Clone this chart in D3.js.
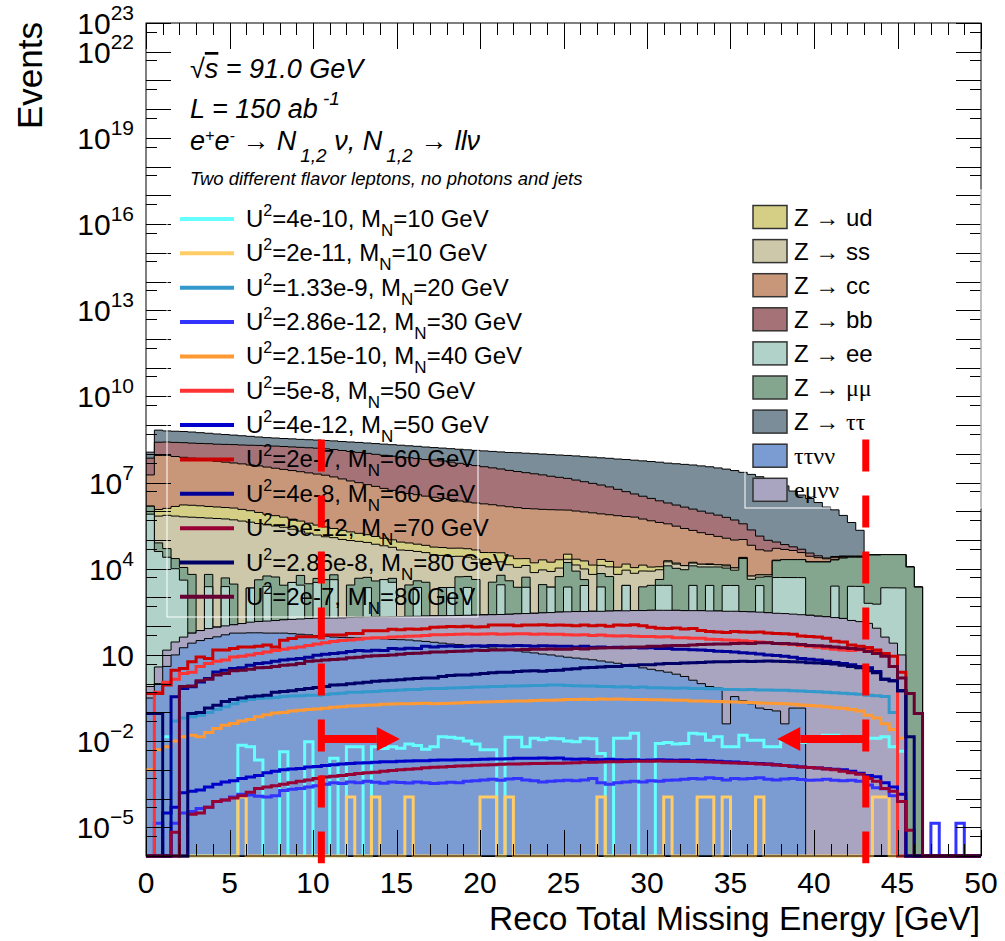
<!DOCTYPE html>
<html>
<head>
<meta charset="utf-8">
<script src="https://cdn.jsdelivr.net/npm/d3@7"></script>
<style>
body { margin: 0; background: #fff; }
text { font-family: "Liberation Sans", Arial, Helvetica, sans-serif; fill: #000; white-space: pre; }
</style>
</head>
<body>
<script>
// log10(events per 0.5 GeV bin); _ = empty bin
const _ = null;
const nBins = 100, binWidth = 0.5;

// backgrounds, in stacking order (bottom first)
const ttnnLog = [
  -0.5, 0.0, 0.6, 1.0, 1.25, 1.41, 1.5, 1.57, 1.63, 1.7,
  1.76, 1.76, 1.77, 1.77, 1.76, 1.76, 1.76, 1.74, 1.72, 1.7,
  1.67, 1.65, 1.62, 1.61, 1.6, 1.59, 1.58, 1.57, 1.56, 1.54,
  1.53, 1.52, 1.49, 1.47, 1.44, 1.41, 1.38, 1.36, 1.33, 1.3,
  1.27, 1.24, 1.2, 1.17, 1.14, 1.1, 1.07, 1.03, 1.0, 0.96,
  0.92, 0.89, 0.86, 0.83, 0.79, 0.75, 0.71, 0.66, 0.6, 0.55,
  0.5, 0.45, 0.4, 0.33, 0.25, 0.12, 0.0, -0.1, -0.15, -1.4,
  -0.45, -0.6, -0.7, -0.85, -0.9, -0.95, -1.4, -0.85, -0.85, _,
  _, _, _, _, _, _, _, _, _, _,
  _, _, _, _, _, _, _, _, _, _];
const emnnLog = [
  -0.32, 0.45, 1.03, 1.26, 1.38, 1.5, 1.59, 1.66, 1.7, 1.72,
  1.74, 1.82, 1.9, 1.94, 1.97, 2.0, 2.04, 2.07, 2.1, 2.13,
  2.16, 2.17, 2.18, 2.19, 2.21, 2.22, 2.23, 2.24, 2.24, 2.25,
  2.26, 2.27, 2.28, 2.29, 2.3, 2.31, 2.32, 2.33, 2.34, 2.35,
  2.36, 2.37, 2.38, 2.39, 2.41, 2.42, 2.43, 2.45, 2.46, 2.48,
  2.49, 2.5, 2.5, 2.51, 2.51, 2.52, 2.53, 2.53, 2.54, 2.54,
  2.55, 2.55, 2.55, 2.55, 2.54, 2.54, 2.54, 2.53, 2.53, 2.52,
  2.52, 2.51, 2.5, 2.49, 2.47, 2.45, 2.44, 2.42, 2.4, 2.38,
  2.35, 2.33, 2.3, 2.27, 2.2, 2.16, 2.1, 1.93, 1.62, 1.41,
  1.0, _, _, _, _, _, _, _, _, _];
const zeeLog = [
  5.9, 4.6, 4.4, 4.0, 3.6, _, _, 3.36, _, 3.36,
  _, _, 3.3, _, 3.36, _, _, 3.5, 3.4, _,
  3.5, _, 3.6, _, _, _, 3.3, _, 3.6, 3.5,
  _, _, 3.3, _, _, _, 3.3, _, 3.3, _,
  _, _, 3.4, _, _, 3.3, _, _, 3.3, _,
  3.3, _, 3.36, _, 3.3, _, _, 3.36, _, _,
  _, 3.36, 3.36, _, _, 3.36, _, 3.36, _, 3.36,
  3.36, _, _, 3.36, _, 3.67, 3.67, 3.67, 3.67, _,
  _, _, 3.36, _, 3.36, 3.36, 2.7, 2.7, 3.33, 3.33,
  3.33, _, _, _, _, _, _, _, _, _];
const zmmLog = [
  5.85, 4.6, 4.4, 4.1, 3.85, 3.8, _, 3.6, _, 3.38,
  3.45, _, _, 3.6, 3.5, 3.7, 3.4, _, 3.5, 3.45,
  3.1, 3.6, 3.3, _, 3.4, 3.65, 3.45, 3.55, _, 3.1,
  _, 3.4, 3.2, 3.5, _, 3.3, _, 3.7, 3.5, 3.6,
  _, 3.5, 3.5, 3.55, 3.3, 3.45, _, 3.4, _, 3.7,
  4.15, 3.9, 3.2, _, 3.65, 3.7, _, _, _, 3.3,
  3.36, 3.2, 4.0, 4.0, 3.95, 4.0, 4.05, 3.95, 4.05, 3.9,
  3.8, 4.35, 3.6, 3.4, 3.7, 4.15, 4.2, 4.2, 4.2, 4.23,
  4.23, 4.23, 4.25, 4.37, 4.36, 4.36, 4.47, 4.47, 4.46, 4.46,
  4.46, 4.06, 3.36, _, _, _, _, _, _, _];
const zssLog = [
  _, 5.78, 5.83, 5.82, 5.8, 5.79, 5.78, 5.76, 5.75, 5.73,
  5.7, 5.66, 5.62, 5.57, 5.52, 5.48, 5.44, 5.37, 5.3, 5.23,
  5.16, 5.1, 5.06, 5.02, 4.97, 4.93, 4.89, 4.83, 4.77, 4.71,
  4.65, 4.61, 4.56, 4.52, 4.48, 4.43, 4.39, 4.34, 4.3, 4.24,
  4.18, 4.12, 4.06, 4.0, 3.95, 3.9, 3.85, 3.8, 3.76, 3.72,
  3.7, 3.72, 3.75, 3.78, 3.8, 3.8, 3.78, 3.8, 3.82, 3.78,
  3.75, 3.7, 3.68, 3.62, 3.55, 3.5, 3.45, 3.4, 3.35, 3.3,
  3.25, 3.2, 3.1, 3.0, 2.9, 2.8, _, _, _, _,
  _, _, _, _, _, _, _, _, _, _,
  _, _, _, _, _, _, _, _, _, _];
const zudLog = [
  _, 5.68, 5.73, 5.9, 6.01, 6.0, 5.98, 5.95, 5.93, 5.91,
  5.9, 5.85, 5.8, 5.73, 5.66, 5.6, 5.54, 5.47, 5.4, 5.33,
  5.26, 5.19, 5.12, 5.05, 4.98, 4.91, 4.85, 4.79, 4.72, 4.66,
  4.6, 4.55, 4.5, 4.46, 4.42, 4.41, 4.4, 4.4, 4.39, 4.37,
  4.33, 4.3, 4.27, 4.15, 4.05, 3.98, 3.94, 4.05, 3.95, 4.0,
  4.03, 3.9, 3.95, 3.85, 3.9, 3.8, 3.7, 3.75, 3.6, 3.7,
  3.5, 3.4, 3.2, 3.1, _, 3.0, _, 2.9, _, 3.0,
  _, 2.8, _, _, _, _, _, _, _, _,
  _, _, _, _, _, _, _, _, _, _,
  _, _, _, _, _, _, _, _, _, _];
const zccLog = [
  7.23, 7.94, 7.94, 7.9, 7.87, 7.84, 7.8, 7.77, 7.73, 7.7,
  7.67, 7.64, 7.6, 7.57, 7.53, 7.49, 7.45, 7.41, 7.37, 7.33,
  7.29, 7.25, 7.19, 7.12, 7.05, 6.99, 6.92, 6.86, 6.79, 6.72,
  6.66, 6.61, 6.57, 6.52, 6.48, 6.44, 6.4, 6.35, 6.31, 6.28,
  6.25, 6.22, 6.18, 6.15, 6.12, 6.09, 6.08, 6.06, 6.05, 6.04,
  6.03, 6.0, 5.97, 5.94, 5.9, 5.87, 5.84, 5.81, 5.79, 5.72,
  5.66, 5.6, 5.54, 5.46, 5.38, 5.3, 5.22, 5.15, 5.08, 5.01,
  4.95, 4.9, 4.78, 4.6, 4.55, 4.5, 4.42, 4.35, 4.2, 4.0,
  3.85, 3.7, 3.6, 3.5, 3.3, 3.3, _, _, _, _,
  _, _, _, _, _, _, _, _, _, _];
const zbbLog = [
  7.72, 8.22, 8.23, 8.23, 8.23, 8.22, 8.22, 8.22, 8.21, 8.21,
  8.21, 8.2, 8.2, 8.2, 8.19, 8.19, 8.18, 8.17, 8.16, 8.15,
  8.14, 8.12, 8.1, 8.07, 8.04, 8.01, 7.98, 7.95, 7.92, 7.89,
  7.86, 7.84, 7.81, 7.78, 7.76, 7.73, 7.69, 7.65, 7.61, 7.57,
  7.53, 7.49, 7.45, 7.4, 7.36, 7.32, 7.28, 7.24, 7.19, 7.15,
  7.11, 7.05, 6.99, 6.93, 6.87, 6.8, 6.71, 6.62, 6.53, 6.45,
  6.37, 6.28, 6.2, 6.13, 6.06, 5.99, 5.92, 5.85, 5.78, 5.7,
  5.6, 5.42, 5.2, 4.96, 4.75, 4.53, 4.35, 4.17, 4.05, 3.9,
  3.6, 3.2, 3.4, 3.0, _, _, _, _, _, _,
  _, _, _, _, _, _, _, _, _, _];
const zttLog = [
  7.64, 8.62, 8.57, 8.56, 8.55, 8.53, 8.5, 8.47, 8.44, 8.41,
  8.38, 8.35, 8.32, 8.28, 8.25, 8.23, 8.21, 8.2, 8.18, 8.17,
  8.16, 8.15, 8.15, 8.14, 8.14, 8.14, 8.13, 8.12, 8.11, 8.1,
  8.09, 8.07, 8.06, 8.04, 8.02, 8.01, 8.0, 7.99, 7.98, 7.97,
  7.96, 7.95, 7.94, 7.93, 7.93, 7.92, 7.91, 7.9, 7.89, 7.88,
  7.87, 7.86, 7.84, 7.83, 7.81, 7.8, 7.78, 7.77, 7.75, 7.73,
  7.71, 7.69, 7.66, 7.64, 7.62, 7.6, 7.57, 7.54, 7.5, 7.46,
  7.41, 7.35, 7.28, 7.2, 7.12, 7.04, 6.88, 6.7, 6.56, 6.44,
  6.3, 6.14, 6.04, 5.84, 5.58, 5.28, _, _, _, _,
  _, _, _, _, _, _, _, _, _, _];

// signal samples (legend order)
const sigU4e10M10 = [
  _, _, -1.85, _, _, _, _, _, _, _,
  _, -2.14, -2.2, -2.66, _, _, -2.37, _, _, -2.02,
  _, _, -2.6, _, -2.2, -2.2, _, -2.2, -2.26, -2.2,
  -2.25, -2.1, -2.15, -2.28, -2.2, -1.85, -1.87, -1.9, -2.0, -2.1,
  -2.3, -2.3, _, -1.87, -1.87, -2.2, -1.9, -1.95, -1.9, -1.92,
  -2.0, -2.02, -1.9, -1.92, -2.43, _, -1.9, -1.9, -1.73, _,
  _, -2.08, -2.05, -2.1, -2.08, -1.73, -1.75, -1.97, -1.85, -2.2,
  -2.2, -1.8, -1.97, -1.97, -2.2, -2.2, -2.0, -1.98, -2.05, -2.0,
  -1.95, -1.8, -1.8, -1.9, -1.95, -1.9, -1.9, -1.9, -1.85, -2.2,
  -2.35, _, _, _, _, _, _, _, _, _];
const sigU2e11M10 = [
  _, _, _, _, _, _, _, _, _, _,
  _, -3.95, _, _, _, _, _, _, _, _,
  _, _, _, _, -3.95, _, _, -3.95, _, _,
  _, -3.95, _, _, _, _, _, _, _, _,
  -3.95, -3.95, _, -3.95, _, _, _, _, _, _,
  _, _, _, _, -3.95, _, _, _, _, _,
  _, _, -3.95, _, _, _, -3.95, -3.95, _, -3.95,
  _, _, _, -3.95, _, _, _, _, _, _,
  _, _, _, _, _, _, _, -3.95, -3.95, _,
  _, _, _, _, _, _, _, _, _, _];
const sigU133e9M20 = [
  _, _, _, -1.3, -1.2, -1.15, -1.1, -1.0, -0.9, -0.8,
  -0.7, -0.6, -0.55, -0.52, -0.5, -0.48, -0.45, -0.43, -0.42, -0.4,
  -0.4, -0.38, -0.35, -0.33, -0.3, -0.3, -0.28, -0.27, -0.25, -0.24,
  -0.22, -0.2, -0.2, -0.18, -0.17, -0.17, -0.15, -0.14, -0.13, -0.12,
  -0.12, -0.1, -0.1, -0.08, -0.08, -0.07, -0.06, -0.06, -0.05, -0.05,
  -0.06, -0.07, -0.08, -0.08, -0.1, -0.1, -0.12, -0.11, -0.13, -0.12,
  -0.14, -0.14, -0.15, -0.16, -0.15, -0.17, -0.17, -0.18, -0.18, -0.2,
  -0.2, -0.21, -0.2, -0.22, -0.22, -0.23, -0.23, -0.25, -0.26, -0.27,
  -0.28, -0.3, -0.32, -0.33, -0.35, -0.37, -0.4, -0.42, -0.45, -1.0,
  _, _, _, _, _, _, _, _, _, _];
const sigU286e12M30 = [
  _, -4.86, _, -4.86, -4.5, -4.45, -4.35, -4.3, -4.1, -4.05,
  -3.95, -3.85, -3.88, -3.92, -3.95, -3.9, -3.72, -3.68, -3.65, -3.6,
  -3.55, -3.5, -3.45, -3.48, -3.42, -3.45, -3.4, -3.43, -3.47, -3.42,
  -3.44, -3.46, -3.42, -3.45, -3.48, -3.46, -3.43, -3.45, -3.4, -3.38,
  -3.35, -3.33, -3.36, -3.32, -3.3, -3.35, -3.38, -3.42, -3.4, -3.38,
  -3.36, -3.38, -3.35, -3.3, -3.45, -3.5, -3.45, -3.42, -3.4, -3.42,
  -3.38, -3.4, -3.36, -3.35, -3.33, -3.3, -3.32, -3.28, -3.3, -3.35,
  -3.3, -3.32, -3.3, -3.28, -3.33, -3.35, -3.32, -3.3, -3.34, -3.36,
  -3.35, -3.33, -3.36, -3.38, -3.36, -3.4, -3.53, -3.62, -3.66, -3.9,
  -4.1, _, _, _, -4.86, _, _, -4.86, _, _];
const sigU215e10M40 = [
  -3.0, -2.3, -2.2, -2.0, -1.85, -1.8, -1.85, -1.7, -1.56, -1.45,
  -1.39, -1.3, -1.25, -1.15, -1.08, -1.02, -1.0, -0.95, -0.93, -0.9,
  -0.88, -0.86, -0.82, -0.8, -0.78, -0.77, -0.75, -0.74, -0.72, -0.71,
  -0.7, -0.7, -0.69, -0.68, -0.7, -0.69, -0.68, -0.67, -0.66, -0.65,
  -0.64, -0.63, -0.62, -0.61, -0.6, -0.6, -0.59, -0.58, -0.58, -0.57,
  -0.55, -0.55, -0.54, -0.55, -0.53, -0.54, -0.53, -0.54, -0.55, -0.55,
  -0.56, -0.56, -0.57, -0.58, -0.58, -0.6, -0.6, -0.61, -0.62, -0.63,
  -0.64, -0.65, -0.66, -0.67, -0.68, -0.69, -0.7, -0.72, -0.74, -0.76,
  -0.78, -0.8, -0.84, -0.86, -0.9, -0.95, -1.1, -1.2, -1.4, -1.6,
  -1.9, _, _, _, _, _, _, _, _, _];
const sigU5e8M50 = [
  _, -0.3, 0.05, 0.15, 0.35, 0.4, 0.6, 0.7, 0.78, 0.82,
  0.93, 0.95, 1.0, 1.05, 1.1, 1.15, 1.2, 1.24, 1.28, 1.33,
  1.38, 1.42, 1.47, 1.5, 1.52, 1.55, 1.58, 1.6, 1.6, 1.62,
  1.63, 1.65, 1.66, 1.68, 1.7, 1.7, 1.71, 1.72, 1.73, 1.72,
  1.73, 1.74, 1.72, 1.73, 1.74, 1.74, 1.72, 1.73, 1.72, 1.72,
  1.7, 1.69, 1.7, 1.68, 1.69, 1.67, 1.66, 1.67, 1.65, 1.64,
  1.64, 1.62, 1.63, 1.6, 1.6, 1.58, 1.58, 1.55, 1.54, 1.52,
  1.51, 1.49, 1.47, 1.45, 1.43, 1.4, 1.38, 1.36, 1.33, 1.3,
  1.27, 1.23, 1.2, 1.17, 1.15, 1.18, 1.15, 1.1, 1.02, 0.6,
  _, _, _, _, _, _, _, _, _, _];
const sigU4e12M50 = [
  _, _, -4.5, -4.3, -3.8, -3.75, -3.7, -3.6, -3.5, -3.42,
  -3.38, -3.3, -3.25, -3.2, -3.1, -3.05, -3.0, -2.97, -2.95, -2.9,
  -2.88, -2.85, -2.82, -2.8, -2.78, -2.76, -2.75, -2.74, -2.72, -2.72,
  -2.7, -2.69, -2.68, -2.68, -2.67, -2.66, -2.66, -2.65, -2.65, -2.64,
  -2.63, -2.62, -2.62, -2.61, -2.6, -2.6, -2.6, -2.59, -2.6, -2.59,
  -2.62, -2.63, -2.62, -2.64, -2.65, -2.63, -2.65, -2.66, -2.65, -2.67,
  -2.66, -2.65, -2.66, -2.67, -2.66, -2.68, -2.67, -2.68, -2.7, -2.72,
  -2.73, -2.75, -2.77, -2.78, -2.8, -2.82, -2.85, -2.87, -2.9, -2.92,
  -2.94, -2.96, -2.98, -3.0, -3.05, -3.12, -3.2, -3.24, -3.45, -3.6,
  -3.85, _, _, _, _, _, _, _, _, _];
const sigU2e7M60 = [
  -0.34, -0.34, -0.05, 0.47, 0.53, 0.76, 0.93, 0.88, 1.17, 1.17,
  1.22, 1.28, 1.28, 1.3, 1.35, 1.28, 1.51, 1.57, 1.63, 1.63,
  1.63, 1.69, 1.69, 1.69, 1.75, 1.75, 1.84, 1.84, 1.84, 1.89,
  1.88, 1.9, 1.89, 1.91, 1.96, 1.97, 1.99, 1.98, 2.0, 1.97,
  1.98, 2.04, 2.04, 2.04, 2.02, 2.04, 2.04, 2.05, 2.03, 2.04,
  2.03, 2.02, 2.04, 2.02, 2.03, 2.0, 2.04, 2.03, 2.05, 2.02,
  1.96, 1.93, 1.92, 1.94, 1.9, 1.92, 1.85, 1.82, 1.8, 1.78,
  1.82, 1.8, 1.79, 1.8, 1.76, 1.75, 1.74, 1.72, 1.66, 1.64,
  1.62, 1.58, 1.48, 1.45, 1.35, 1.3, 1.26, 1.17, 1.05, 0.95,
  0.4, _, _, _, _, _, _, _, _, _];
const sigU4e8M60 = [
  _, _, _, -0.46, -0.17, -0.11, 0.06, 0.18, 0.41, 0.47,
  0.53, 0.55, 0.64, 0.7, 0.73, 0.78, 0.82, 0.85, 0.88, 0.92,
  0.99, 1.02, 1.05, 1.08, 1.12, 1.15, 1.14, 1.16, 1.15, 1.22,
  1.21, 1.23, 1.22, 1.3, 1.28, 1.3, 1.31, 1.29, 1.3, 1.32,
  1.31, 1.33, 1.32, 1.31, 1.33, 1.32, 1.3, 1.32, 1.31, 1.3,
  1.3, 1.28, 1.3, 1.27, 1.28, 1.26, 1.27, 1.25, 1.26, 1.24,
  1.25, 1.22, 1.22, 1.2, 1.2, 1.18, 1.17, 1.15, 1.13, 1.12,
  1.1, 1.08, 1.06, 1.03, 1.0, 0.98, 0.95, 0.92, 0.88, 0.85,
  0.82, 0.78, 0.74, 0.7, 0.66, 0.6, 0.55, 0.42, 0.15, 0.1,
  -0.25, _, _, _, _, _, _, _, _, _];
const sigU5e12M70 = [
  _, _, _, -5.17, _, -4.55, -4.5, -4.3, -4.1, -4.05,
  -3.98, -3.9, -3.78, -3.65, -3.6, -3.55, -3.5, -3.45, -3.4, -3.35,
  -3.3, -3.25, -3.22, -3.2, -3.16, -3.13, -3.1, -3.08, -3.05, -3.02,
  -3.0, -2.98, -2.96, -2.93, -2.91, -2.9, -2.88, -2.87, -2.86, -2.84,
  -2.83, -2.82, -2.81, -2.8, -2.8, -2.79, -2.78, -2.78, -2.77, -2.77,
  -2.76, -2.75, -2.74, -2.74, -2.73, -2.72, -2.72, -2.71, -2.7, -2.7,
  -2.7, -2.69, -2.7, -2.7, -2.71, -2.71, -2.72, -2.73, -2.74, -2.75,
  -2.76, -2.77, -2.78, -2.8, -2.81, -2.83, -2.85, -2.88, -2.9, -2.92,
  -2.94, -2.97, -3.0, -3.05, -3.1, -3.15, -3.3, -3.4, -3.65, -3.75,
  -4.1, -5.1, _, _, _, _, _, _, _, _];
const sigU286e8M80 = [
  -1.04, -1.04, _, _, _, -1.04, -1.0, -0.85, -0.75, -0.62,
  -0.55, -0.5, -0.46, -0.43, -0.4, -0.3, -0.27, -0.25, -0.2, -0.17,
  -0.13, -0.1, -0.05, -0.04, 0.0, 0.02, 0.05, 0.08, 0.1, 0.12,
  0.14, 0.16, 0.18, 0.2, 0.2, 0.25, 0.28, 0.3, 0.3, 0.33,
  0.35, 0.38, 0.4, 0.4, 0.42, 0.44, 0.45, 0.43, 0.46, 0.47,
  0.5, 0.52, 0.55, 0.56, 0.58, 0.6, 0.6, 0.63, 0.64, 0.66,
  0.66, 0.68, 0.7, 0.7, 0.72, 0.73, 0.74, 0.75, 0.76, 0.76,
  0.77, 0.78, 0.77, 0.78, 0.79, 0.78, 0.77, 0.76, 0.75, 0.73,
  0.72, 0.7, 0.68, 0.64, 0.6, 0.55, 0.45, 0.38, 0.15, 0.1,
  -0.25, -1.85, _, _, _, _, _, _, _, _];
const sigU2e7M80 = [
  _, _, _, _, -0.1, -0.08, 0.1, 0.15, 0.3, 0.35,
  0.45, 0.47, 0.5, 0.55, 0.56, 0.6, 0.64, 0.66, 0.7, 0.78,
  0.8, 0.82, 0.84, 0.86, 0.9, 0.92, 0.95, 0.97, 0.98, 1.0,
  1.02, 1.05, 1.06, 1.08, 1.1, 1.1, 1.12, 1.13, 1.14, 1.16,
  1.15, 1.17, 1.17, 1.18, 1.18, 1.19, 1.2, 1.2, 1.21, 1.2,
  1.2, 1.22, 1.21, 1.23, 1.24, 1.25, 1.25, 1.27, 1.28, 1.28,
  1.3, 1.3, 1.32, 1.33, 1.33, 1.35, 1.36, 1.37, 1.38, 1.38,
  1.4, 1.41, 1.4, 1.42, 1.42, 1.4, 1.4, 1.38, 1.36, 1.33,
  1.32, 1.3, 1.28, 1.25, 1.22, 1.2, 1.12, 1.05, 0.95, 0.6,
  0.2, -0.34, -1.04, _, _, _, _, _, _, _];

const bgLabels = ["ττνν", "eμνν", "Z → ee", "Z → μμ", "Z → ss", "Z → ud", "Z → cc", "Z → bb", "Z → ττ"];
const bgData = [ttnnLog, emnnLog, zeeLog, zmmLog, zssLog, zudLog, zccLog, zbbLog, zttLog];
const bgColors = ["#7b9bd3", "#a9a5c1", "#b1d2c8", "#84a68e", "#cdc8aa", "#d4cf85", "#c8977a", "#a57377", "#7b8d98"];
const bgLegendOrder = [5, 4, 6, 7, 2, 3, 8, 0, 1];

const sigU2 = ["4e-10", "2e-11", "1.33e-9", "2.86e-12", "2.15e-10", "5e-8", "4e-12", "2e-7", "4e-8", "5e-12", "2.86e-8", "2e-7"];
const sigMass = [10, 10, 20, 30, 40, 50, 50, 60, 60, 70, 80, 80];
const sigData = [sigU4e10M10, sigU2e11M10, sigU133e9M20, sigU286e12M30, sigU215e10M40, sigU5e8M50,
                 sigU4e12M50, sigU2e7M60, sigU4e8M60, sigU5e12M70, sigU286e8M80, sigU2e7M80];
const sigColors = ["#66ffff", "#ffcc66", "#3399cc", "#3333ff", "#ff9933", "#ff3333",
                   "#0000cc", "#cc0000", "#000099", "#990033", "#000066", "#660033"];

const yTickExps = [-5, -2, 1, 4, 7, 10, 13, 16, 19, 22, 23];
const xTickLabels = [0, 5, 10, 15, 20, 25, 30, 35, 40, 45, 50];
const cutLow = 10.5, cutHigh = 43.1, arrowY = 0.0118;

// ---- drawing ----
const svg = d3.select("body").append("svg").attr("width", 1005).attr("height", 941);
const x = d3.scaleLinear().domain([0, 50]).range([146, 981]);
const y = d3.scaleLog().domain([1e-6, 1e23]).range([856, 23]);
const yBottom = y.range()[0];
const edges = d3.range(nBins + 1).map(i => i * binWidth);
const lin = v => v == null ? 0 : Math.pow(10, v);

svg.append("defs").append("clipPath").attr("id", "frame")
  .append("rect").attr("x", 146).attr("y", 23).attr("width", 835).attr("height", 836);
const plot = svg.append("g").attr("clip-path", "url(#frame)");

function steps(vals) {
  const pts = [];
  vals.forEach((v, i) => {
    const yy = v > 0 ? y(v) : yBottom;
    pts.push([x(edges[i]), yy], [x(edges[i + 1]), yy]);
  });
  return pts;
}

// stacked backgrounds: each cumulative histogram filled down to the axis, top one first
const keys = bgData.map((d, k) => "b" + k);
const rows = d3.range(nBins).map(i => {
  const r = {};
  bgData.forEach((d, k) => r["b" + k] = lin(d[i]));
  return r;
});
const stacked = d3.stack().keys(keys)(rows);
for (let k = stacked.length - 1; k >= 0; k--) {
  const pts = [[x(0), yBottom], ...steps(stacked[k].map(d => d[1])), [x(50), yBottom]];
  plot.append("path").attr("d", d3.line()(pts) + "Z")
    .attr("fill", bgColors[k]).attr("stroke", "#000").attr("stroke-width", 1);
}

// signal histograms
sigData.forEach((d, k) => {
  plot.append("path").attr("d", d3.line()(steps(d.map(lin))))
    .attr("fill", "none").attr("stroke", sigColors[k]).attr("stroke-width", 3);
});

// frame and ticks
const axes = svg.append("g").attr("stroke", "#000").attr("stroke-width", 1);
axes.append("rect").attr("x", 146).attr("y", 23).attr("width", 835).attr("height", 833).attr("fill", "none");
d3.range(0, 51).forEach(v => {
  const len = v % 5 === 0 ? 26 : 12, px = Math.round(x(v)) + 0.5;
  axes.append("line").attr("x1", px).attr("x2", px).attr("y1", 856).attr("y2", 856 - len);
  axes.append("line").attr("x1", px).attr("x2", px).attr("y1", 23).attr("y2", 23 + len);
});
d3.range(-6, 24).forEach(e => {
  const py = Math.round(y(Math.pow(10, e))) + 0.5;
  axes.append("line").attr("x1", 146).attr("x2", 171).attr("y1", py).attr("y2", py);
  axes.append("line").attr("x1", 981).attr("x2", 956).attr("y1", py).attr("y2", py);
  if (e < 23) {
    const pm = Math.round(y(5 * Math.pow(10, e))) + 0.5;
    axes.append("line").attr("x1", 146).attr("x2", 157).attr("y1", pm).attr("y2", pm);
    axes.append("line").attr("x1", 981).attr("x2", 970).attr("y1", pm).attr("y2", pm);
  }
});

function rich(g, px, py, parts, size, opts = {}) {
  const t = g.append("text").attr("x", px).attr("y", py).style("font-size", size + "px");
  if (opts.italic) t.style("font-style", "italic");
  if (opts.anchor) t.attr("text-anchor", opts.anchor);
  let shift = 0;
  parts.forEach(p => {
    const off = p.sup ? -(p.up || size * 0.45) : p.sub ? (p.down || size * 0.35) : 0;
    const s = t.append("tspan").attr("dy", off - shift).text(p.t);
    if (p.dx) s.attr("dx", p.dx);
    if (p.sup || p.sub) s.style("font-size", (p.size || size * 0.68) + "px");
    if (p.serif) s.style("font-family", '"Liberation Serif", "DejaVu Serif", serif');
    if (p.over) s.style("text-decoration", "overline");
    shift = off;
  });
  return t;
}

// tick labels
const labels = svg.append("g");
xTickLabels.forEach(v => {
  labels.append("text").attr("x", x(v)).attr("y", 893).attr("text-anchor", "middle")
    .style("font-size", "30px").text(v);
});
yTickExps.forEach(e => {
  const py = y(Math.pow(10, e)) + 11;
  if (e === 1) labels.append("text").attr("x", 134).attr("y", py).attr("text-anchor", "end").style("font-size", "30px").text("10");
  else rich(labels, 134, py, [{t: "10"}, {t: e < 0 ? "−" + (-e) : String(e), sup: true, up: 14, size: 21}], 30, {anchor: "end"});
});
labels.append("text").attr("x", 980).attr("y", 930).attr("text-anchor", "end")
  .style("font-size", "33.5px").text("Reco Total Missing Energy [GeV]");
labels.append("text").attr("transform", "translate(42,22) rotate(-90)").attr("text-anchor", "end")
  .style("font-size", "35px").text("Events");

// legends
const legL = svg.append("g");
legL.append("rect").attr("x", 167).attr("y", 205).attr("width", 311).attr("height", 412)
  .attr("fill", "none").attr("stroke", "#fff");
sigData.forEach((d, k) => {
  const by = 227 + k * 34.35;
  legL.append("line").attr("x1", 180).attr("x2", 234).attr("y1", by - 8).attr("y2", by - 8)
    .attr("stroke", sigColors[k]).attr("stroke-width", 4);
  rich(legL, 246, by, [
    {t: "U"}, {t: "2", sup: true, up: 11, size: 16}, {t: "=" + sigU2[k] + ", M"},
    {t: "N", sub: true, down: 9, size: 17}, {t: "=" + sigMass[k] + " GeV"}], 24);
});

const legR = svg.append("g");
legR.append("rect").attr("x", 745).attr("y", 190).attr("width", 236).attr("height", 318)
  .attr("fill", "none").attr("stroke", "#fff");
bgLegendOrder.forEach((k, i) => {
  const cy = 217 + i * 34.1;
  legR.append("rect").attr("x", 753).attr("y", cy - 11.5).attr("width", 34).attr("height", 23)
    .attr("fill", bgColors[k]).attr("stroke", "#333").attr("stroke-width", 1.5);
  const lab = bgLabels[k];
  const parts = lab.startsWith("Z")
    ? [{t: "Z "}, {t: "→", serif: true}, {t: " "}, {t: lab.slice(4), serif: /[μτ]/.test(lab)}]
    : [{t: lab, serif: true}];
  rich(legR, 794, cy + 8.5, parts, 24);
});

// header text
const hdr = svg.append("g");
rich(hdr, 190, 78, [{t: "√"}, {t: "s", over: true}, {t: " = 91.0 GeV"}], 27, {italic: true});
rich(hdr, 190, 118, [{t: "L = 150 ab"}, {t: "-1", sup: true, up: 13, size: 19, dx: 5}], 27, {italic: true});
rich(hdr, 190, 150, [
  {t: "e"}, {t: "+", sup: true, up: 9, size: 16}, {t: "e"}, {t: "-", sup: true, up: 9, size: 16},
  {t: " "}, {t: "→", serif: true}, {t: " N"}, {t: "1,2", sub: true, down: 12, size: 19, dx: 4}, {t: " ν, N"},
  {t: "1,2", sub: true, down: 12, size: 19, dx: 4}, {t: " "}, {t: "→", serif: true}, {t: " llν"}], 27, {italic: true});
hdr.append("text").attr("x", 190).attr("y", 185).style("font-size", "18.5px").style("font-style", "italic")
  .text("Two different flavor leptons, no photons and jets");

// selection cuts
const cuts = svg.append("g");
[cutLow, cutHigh].forEach(c => {
  cuts.append("line").attr("x1", x(c)).attr("x2", x(c)).attr("y1", y(Math.pow(10, 8.5))).attr("y2", y(Math.pow(10, -6.25)))
    .attr("stroke", "#ff0000").attr("stroke-width", 7).attr("stroke-dasharray", "32,24");
});
[[cutLow, 15.2], [cutHigh, 37.8]].forEach(([a, b]) => {
  const x0 = x(a), x1 = x(b), py = y(arrowY), dir = Math.sign(x1 - x0);
  const base = x1 - dir * 23;
  cuts.append("line").attr("x1", x0).attr("x2", base).attr("y1", py).attr("y2", py)
    .attr("stroke", "#ff0000").attr("stroke-width", 8);
  cuts.append("path").attr("d", `M${x1},${py}L${base},${py - 12}L${base},${py + 12}Z`).attr("fill", "#ff0000");
});
</script>
</body>
</html>
